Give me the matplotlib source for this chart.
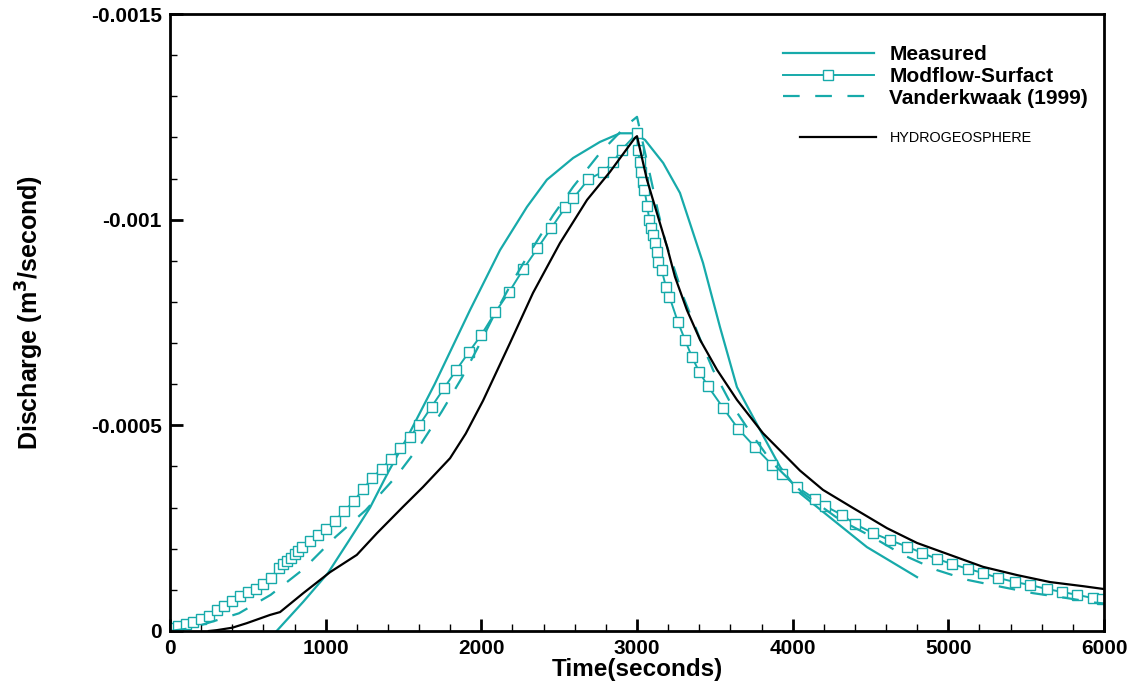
import matplotlib
matplotlib.use("Agg")
import matplotlib.pyplot as plt
from matplotlib.ticker import MultipleLocator
from matplotlib.lines import Line2D

plt.rcParams['font.family'] = ['Liberation Sans', 'DejaVu Sans']

# Discharge values are magnitudes in units of 1e-4 m^3/s (plotted as negative)
measured_t = [685, 856, 1015, 1150, 1285, 1400, 1522, 1700, 1927, 2120, 2293, 2421,
              2590, 2762, 2891, 2977, 3051, 3168, 3276, 3424, 3533, 3642, 3790,
              3919, 4047, 4260, 4477, 4799]
measured_q = [0.0, 0.71, 1.41, 2.2, 3.0, 3.85, 4.69, 6.0, 7.8, 9.26, 10.31, 10.97,
              11.5, 11.89, 12.1, 12.1, 11.94, 11.38, 10.65, 8.95, 7.39, 5.93, 4.89,
              3.99, 3.35, 2.70, 2.04, 1.31]

modflow_t = [0, 50, 100, 150, 200, 250, 300, 350, 400, 450, 500, 550, 600, 650, 700,
             725, 750, 775, 800, 825, 850, 900, 950, 1000, 1060, 1120, 1180, 1240,
             1300, 1360, 1420, 1480, 1540, 1600, 1680, 1760, 1840, 1920, 2000, 2090,
             2180, 2270, 2360, 2450, 2540, 2591, 2687, 2784, 2848, 2901, 3000,
             3005, 3018, 3028, 3039, 3048, 3066, 3079, 3088, 3105, 3116, 3126, 3137,
             3158, 3186, 3208, 3263, 3308, 3353, 3400, 3456, 3552, 3649, 3758, 3867,
             3931, 4028, 4143, 4208, 4317, 4400, 4516, 4625, 4734, 4831, 4927, 5024,
             5126, 5223, 5319, 5428, 5524, 5634, 5730, 5826, 5929, 5987]
modflow_q = [0.08, 0.12, 0.17, 0.22, 0.29, 0.36, 0.5, 0.6, 0.72, 0.84, 0.95, 1.03,
             1.14, 1.30, 1.52, 1.62, 1.70, 1.78, 1.87, 1.95, 2.05, 2.2, 2.33, 2.48,
             2.68, 2.92, 3.15, 3.45, 3.72, 3.95, 4.18, 4.45, 4.72, 5.0, 5.45, 5.9,
             6.35, 6.78, 7.2, 7.75, 8.25, 8.8, 9.3, 9.8, 10.3, 10.52, 10.98, 11.17,
             11.41, 11.7, 12.1,
             11.7, 11.41, 11.17, 10.92, 10.72, 10.33, 9.99, 9.79, 9.63, 9.43, 9.22,
             8.98, 8.78, 8.37, 8.13, 7.51, 7.08, 6.66, 6.3, 5.95, 5.43, 4.92, 4.47,
             4.04, 3.82, 3.5, 3.21, 3.04, 2.82, 2.6, 2.38, 2.21, 2.05, 1.9, 1.75,
             1.63, 1.51, 1.41, 1.29, 1.19, 1.12, 1.02, 0.95, 0.88, 0.8, 0.78]

vdk_t = [0, 100, 205, 443, 647, 856, 1064, 1258, 1456, 1616, 1745, 1874, 1979, 2075,
         2195, 2293, 2460, 2590, 2762, 2935, 3000, 3083, 3135, 3180, 3300, 3405,
         3488, 3597, 3726, 3867, 4066, 4304, 4510, 4709, 4927, 5126, 5345, 5544,
         5762, 5942, 6000]
vdk_q = [0.0, 0.05, 0.15, 0.43, 0.88, 1.5, 2.29, 2.94, 3.77, 4.57, 5.33, 6.15, 6.9,
         7.63, 8.46, 9.09, 10.1, 10.8, 11.62, 12.3, 12.5, 11.1, 10.2, 9.5, 8.1, 7.1,
         6.35, 5.57, 4.84, 4.1, 3.35, 2.7, 2.29, 1.85, 1.48, 1.24, 1.07, 0.92,
         0.8, 0.69, 0.67]

hydro_t = [250, 300, 400, 493, 642, 707, 856, 1028, 1200, 1330, 1497, 1625, 1799,
           1900, 2011, 2184, 2332, 2505, 2679, 2826, 2987, 3000, 3064, 3128, 3193,
           3244, 3321, 3405, 3514, 3642, 3809, 4047, 4195, 4388, 4606, 4799, 5011,
           5223, 5441, 5653, 5865, 6000]
hydro_q = [0.0, 0.02, 0.08, 0.19, 0.39, 0.46, 0.92, 1.43, 1.85, 2.38, 3.02, 3.5, 4.2,
           4.8, 5.6, 7.0, 8.22, 9.43, 10.48, 11.16, 11.99, 12.03, 10.97, 10.16, 9.34,
           8.61, 7.8, 7.08, 6.35, 5.62, 4.81, 3.9, 3.43, 2.99, 2.5, 2.14, 1.85,
           1.56, 1.36, 1.19, 1.09, 1.02]

labels = ["Measured", "Modflow-Surfact", "Vanderkwaak (1999)", "HYDROGEOSPHERE"]
x_ticks = [0, 1000, 2000, 3000, 4000, 5000, 6000]
y_ticks = [0, -0.0005, -0.001, -0.0015]
y_ticklabels = ["0", "-0.0005", "-0.001", "-0.0015"]

TEAL = "#17aaaa"
scale = -1e-4

fig = plt.figure(figsize=(11.32, 6.84), dpi=100)
ax = fig.add_axes([170/1132, 1 - 631/684, (1104-170)/1132, (631-14)/684])

ax.plot(measured_t, [q*scale for q in measured_q], color=TEAL, lw=1.6)
ax.plot(modflow_t, [q*scale for q in modflow_q], color=TEAL, lw=1.4, marker='s',
        ms=6.5, mfc='white', mec=TEAL, mew=1.0)
ax.plot(vdk_t, [q*scale for q in vdk_q], color=TEAL, lw=1.6, dashes=[7.5, 7])
ax.plot(hydro_t, [q*scale for q in hydro_q], color='black', lw=1.6)

ax.set_xlim(0, 6000)
ax.set_ylim(0, -0.0015)
ax.set_xticks(x_ticks)
ax.set_yticks(y_ticks)
ax.set_yticklabels(y_ticklabels)
ax.xaxis.set_minor_locator(MultipleLocator(200))
ax.yaxis.set_minor_locator(MultipleLocator(0.0001))
ax.tick_params(which='major', direction='in', length=9, width=2, labelsize=15,
               pad=6, top=False, right=False)
ax.tick_params(which='minor', direction='in', length=5, width=1, top=False, right=False)
for lab in ax.get_xticklabels() + ax.get_yticklabels():
    lab.set_fontweight('bold')
for s in ax.spines.values():
    s.set_linewidth(2)

ax.set_xlabel("Time(seconds)", fontsize=17.5, fontweight='bold', labelpad=0)
ax.set_ylabel("Discharge (m$^{\\mathbf{3}}$/second)", fontsize=18, fontweight='bold')
ax.yaxis.set_label_coords(-0.1326, 0.517)

h1 = [Line2D([0, 1, 2], [0, 0, 0], color=TEAL, lw=1.6),
      Line2D([0, 1, 2], [0, 0, 0], color=TEAL, lw=1.4, marker='s', ms=6.5,
             mfc='white', mec=TEAL, markevery=[1], mew=1.0),
      Line2D([0, 1, 2], [0, 0, 0], color=TEAL, lw=1.6, dashes=[7.5, 7])]
leg1 = ax.legend(h1, labels[:3], loc='upper left', bbox_to_anchor=(0.647, 0.963),
                 frameon=False, fontsize=15, handlelength=4.4, handletextpad=0.72,
                 labelspacing=0.13, borderaxespad=0)
for t in leg1.get_texts():
    t.set_fontweight('bold')
ax.add_artist(leg1)
h2 = [Line2D([], [], color='black', lw=1.6)]
leg2 = ax.legend(h2, labels[3:], loc='upper left', bbox_to_anchor=(0.668, 0.819),
                 frameon=False, fontsize=10.4, handlelength=5.26, handletextpad=0.97,
                 borderaxespad=0)

fig.savefig("out.png", dpi=100)
